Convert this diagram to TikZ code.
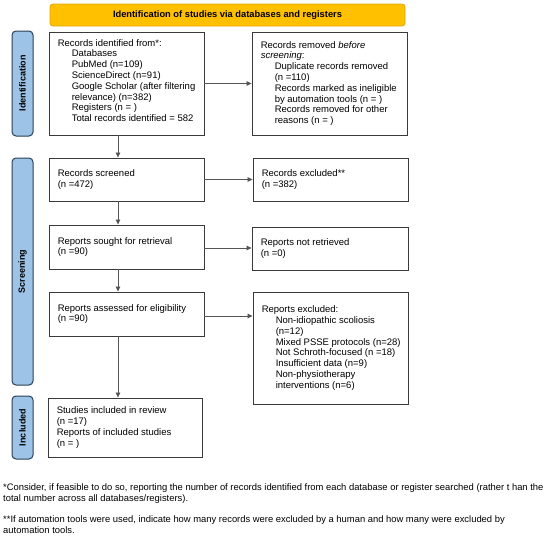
\documentclass[tikz,border=0pt]{standalone}
\usepackage{fontspec}
\setmainfont{Liberation Sans}
\usetikzlibrary{arrows.meta}
\definecolor{hdrfill}{HTML}{FFC000}
\definecolor{hdrdraw}{HTML}{E3A600}
\definecolor{sidefill}{HTML}{9DC3E6}
\definecolor{sidedraw}{HTML}{2A3F55}
\definecolor{boxdraw}{HTML}{3A3A3A}
\definecolor{arrowc}{HTML}{555555}
\newcommand{\li}{\hspace*{14pt}}
\begin{document}
\begin{tikzpicture}[x=1pt,y=-1pt,
  box/.style={draw=boxdraw, line width=0.9pt, fill=white, inner sep=0pt, anchor=center},
  txt/.style={align=left, inner sep=0pt, anchor=west, font=\fontsize{9.5}{10.8}\selectfont},
  side/.style={draw=sidedraw, line width=1pt, fill=sidefill, rounded corners=4pt,
    font=\fontsize{9}{10}\selectfont\bfseries, rotate=90, inner sep=0pt},
  hdr/.style={draw=hdrdraw, line width=0.8pt, fill=hdrfill, rounded corners=3pt,
    font=\fontsize{9.3}{10}\selectfont\bfseries, inner sep=0pt},
  arr/.style={draw=arrowc, line width=0.8pt, -{Triangle[length=5pt,width=4.5pt]}},
  foot/.style={anchor=base west, align=left, inner sep=0pt, font=\fontsize{9.4}{11}\selectfont}
]
\useasboundingbox[fill=white] (0,0) rectangle (550,549);

\node[hdr, minimum width=355pt, minimum height=22pt] (hdr) at (227.5,15) {Identification of studies via databases and registers};

\node[side, minimum width=105pt, minimum height=21pt] (sid) at (22.5,83.5) {Identification};
\node[side, minimum width=227pt, minimum height=21pt] (sscr) at (22.5,271.5) {Screening};
\node[side, minimum width=63pt, minimum height=21pt] (sinc) at (22.5,427.5) {Included};

\node[box, minimum width=155pt, minimum height=103pt] (b1) at (126.5,83.5) {};
\node[txt] (t1) at ([xshift=9pt,yshift=3pt]b1.west)
 {Records identified from*:\\
  \li Databases\\
  \li PubMed (n=109)\\
  \li ScienceDirect (n=91)\\
  \li Google Scholar (after filtering\\
  \li relevance) (n=382)\\
  \li Registers (n = )\\
  \li Total records identified = 582};

\node[box, minimum width=155pt, minimum height=103pt] (b2) at (329.5,83.5) {};
\node[txt] (t2) at ([xshift=9pt]b2.west)
 {Records removed \textit{before}\\
  \textit{screening}:\\
  \li Duplicate records removed\\
  \li (n =110)\\
  \li Records marked as ineligible\\
  \li by automation tools (n = )\\
  \li Records removed for other\\
  \li reasons (n = )};

\node[box, minimum width=155pt, minimum height=43pt] (b3) at (126.5,179.5) {};
\node[txt] (t3) at ([xshift=9pt]b3.west) {Records screened\\(n =472)};
\node[box, minimum width=155pt, minimum height=43pt] (b4) at (330.5,179.5) {};
\node[txt] (t4) at ([xshift=9pt]b4.west) {Records excluded**\\(n =382)};

\node[box, minimum width=155pt, minimum height=44pt] (b5) at (126.5,247) {};
\node[txt] (t5) at ([xshift=9pt]b5.west) {Reports sought for retrieval\\(n =90)};
\node[box, minimum width=156pt, minimum height=43pt] (b6) at (330,248.5) {};
\node[txt] (t6) at ([xshift=9pt]b6.west) {Reports not retrieved\\(n =0)};

\node[box, minimum width=155pt, minimum height=44pt] (b7) at (126.5,314) {};
\node[txt] (t7) at ([xshift=9pt]b7.west) {Reports assessed for eligibility\\(n =90)};
\node[box, minimum width=155pt, minimum height=112pt] (b8) at (330.5,348) {};
\node[txt] (t8) at ([xshift=9pt]b8.west)
 {Reports excluded:\\
  \li Non-idiopathic scoliosis\\
  \li (n=12)\\
  \li Mixed PSSE protocols (n=28)\\
  \li Not Schroth-focused (n =18)\\
  \li Insufficient data (n=9)\\
  \li Non-physiotherapy\\
  \li interventions (n=6)};

\node[box, minimum width=154pt, minimum height=59pt] (b9) at (125,427.5) {};
\node[txt] (t9) at ([xshift=9pt]b9.west)
 {Studies included in review\\
  (n =17)\\
  Reports of included studies\\
  (n = )};

\coordinate (ax) at (118,0);
\draw[arr] (b1.south -| ax) -- (b3.north -| ax);
\draw[arr] (b3.south -| ax) -- (b5.north -| ax);
\draw[arr] (b5.south -| ax) -- (b7.north -| ax);
\draw[arr] (b7.south -| ax) -- (b9.north -| ax);

\draw[arr] (b1.east) -- (b2.west);
\draw[arr] (b3.east) -- (b4.west);
\draw[arr] (b5.east |- 0,248) -- (b6.west |- 0,248);
\draw[arr] (b7.east |- 0,316) -- (b8.west |- 0,316);

\node[foot] (f1) at (3,501.5) {*Consider, if feasible to do so, reporting the number of records identified from each database or register searched (rather t han the\\
total number across all databases/registers).};
\node[foot] (f2) at (3,533.5) {**If automation tools were used, indicate how many records were excluded by a human and how many were excluded by\\
automation tools.};
\end{tikzpicture}
\end{document}
